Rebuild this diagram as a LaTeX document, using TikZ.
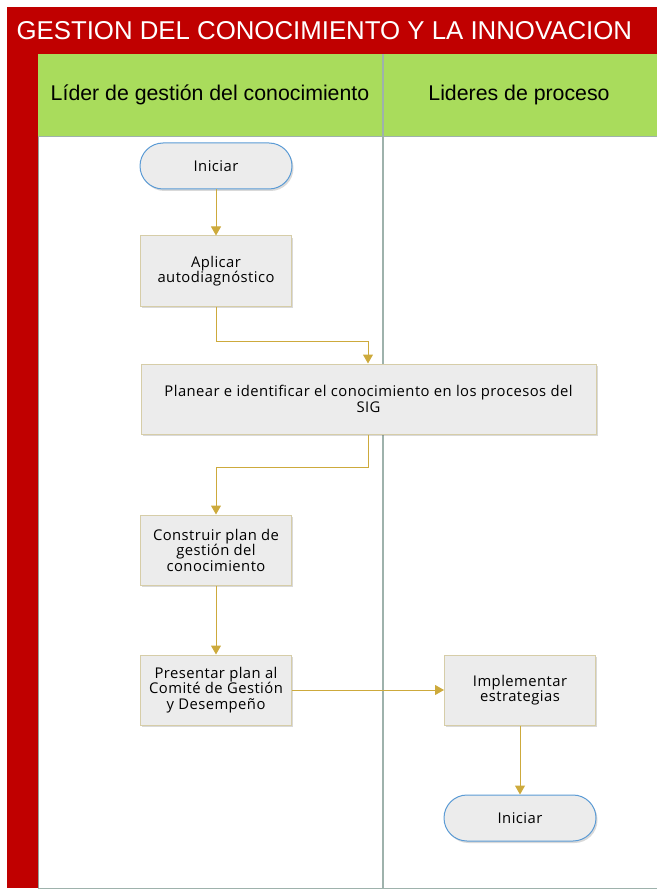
\documentclass[tikz,border=0pt]{standalone}
\usepackage{fontspec}
\setmainfont{Liberation Sans}
\newfontfamily\boxfont[LetterSpace=3]{Open Sans}
\usetikzlibrary{arrows.meta,shadows}
\definecolor{titlered}{HTML}{C00000}
\definecolor{hdrgreen}{HTML}{A9DC5C}
\definecolor{flowgold}{HTML}{CDAA3C}
\definecolor{boxfill}{HTML}{ECECEC}
\definecolor{boxedge}{HTML}{D6CDA8}
\definecolor{termedge}{HTML}{5B9BD5}
\definecolor{laneline}{HTML}{9EB2AC}
\tikzset{
  procbox/.style={draw=boxedge, line width=1pt, fill=boxfill, minimum width=151pt, minimum height=70pt,
    align=center, font=\boxfont\fontsize{14.8}{15.5}\selectfont, inner sep=2pt,
    drop shadow={shadow xshift=1.5pt, shadow yshift=-2pt, opacity=0.25, fill=black!60}},
  termbox/.style={draw=termedge, line width=1pt, fill=boxfill, rounded corners=23pt, minimum width=152pt, minimum height=46pt,
    align=center, font=\boxfont\fontsize{14.8}{15.5}\selectfont,
    drop shadow={shadow xshift=1.5pt, shadow yshift=-2pt, opacity=0.25, fill=black!60}},
  flow/.style={draw=flowgold, line width=1pt, -{Triangle[width=10pt,length=9pt]}},
  hdrtext/.style={font=\fontsize{21.3}{24}\selectfont, text=black}
}
\begin{document}
\begin{tikzpicture}[x=1pt,y=-1pt]
\useasboundingbox (0,0) rectangle (657,890);
% title
\fill[titlered] (7,7) rectangle (657,54);
\node[anchor=west, text=white, font=\fontsize{25.8}{30}\selectfont] (title) at (13,31) {GESTION DEL CONOCIMIENTO Y LA INNOVACION};
% left strip
\fill[titlered] (7,54) rectangle (38,888);
\draw[laneline!70!gray, line width=0.8pt] (38,54) -- (38,888);
% header
\fill[hdrgreen] (38,54) rectangle (657,136);
\draw[laneline, line width=0.8pt] (38,136) -- (657,136);
\node[hdrtext] (h1) at (210,95) {Líder de gestión del conocimiento};
\node[hdrtext] (h2) at (519,95) {Lideres de proceso};
% lanes
\draw[laneline, line width=1.5pt] (383,54) -- (383,888);
\draw[laneline, line width=1pt] (38,888) -- (657,888);
% nodes
\node[termbox] (start) at (216,166) {Iniciar};
\node[procbox] (aplicar) at (216,271) {Aplicar\\autodiagnóstico};
\node[procbox, minimum width=455pt] (planear) at (368.5,399) {Planear e identificar el conocimiento en los procesos del\\SIG};
\node[procbox] (construir) at (216,550) {Construir plan de\\gestión del\\conocimiento};
\node[procbox] (presentar) at (216,690) {Presentar plan al\\Comité de Gestión\\y Desempeño};
\node[procbox] (implementar) at (520,690) {Implementar\\estrategias};
\node[termbox] (fin) at (520,818) {Iniciar};
% connectors
\coordinate (c1) at (216,341);
\coordinate (c2) at (368,341);
\coordinate (c3) at (368,467);
\coordinate (c4) at (216,467);
\draw[flow] (start) -- (aplicar);
\draw[flow] (aplicar.south) -- (c1) -- (c2) -- (c2 |- planear.north);
\draw[flow] (c3 |- planear.south) -- (c3) -- (c4) -- (construir.north);
\draw[flow] (construir) -- (presentar);
\draw[flow] (presentar) -- (implementar);
\draw[flow] (implementar) -- (fin);
\end{tikzpicture}
\end{document}
